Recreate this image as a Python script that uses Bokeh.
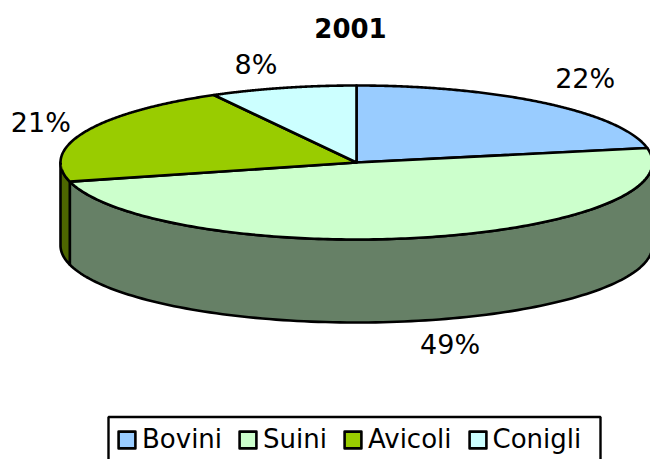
import numpy as np
from bokeh.plotting import figure
from bokeh.models import Range1d, Legend, LegendItem
from bokeh.core.properties import value
from bokeh.embed import file_html
from bokeh.resources import INLINE

title = "2001"
categories = ["Bovini", "Suini", "Avicoli", "Conigli"]
values = [22, 49, 21, 8]
labels = ["22%", "49%", "21%", "8%"]
top_colors = ["#99CCFF", "#CCFFCC", "#99CC00", "#CCFFFF"]
side_colors = ["#4D6680", "#668066", "#4D6600", "#668080"]

FONT = "DejaVu Sans"
W, H = 650, 459
CX, CY, RX, RY, DEPTH = 356, 162, 296, 77, 83
LW = 2.6
label_offsets = [(40, -25), (29, 107), (-44, -9), (-27, -23)]

p = figure(width=W, height=H, output_backend="svg", toolbar_location=None,
           x_range=Range1d(0, W), y_range=Range1d(H, 0),
           min_border=0, outline_line_color=None)
p.xaxis.visible = False
p.yaxis.visible = False
p.grid.visible = False


def rim(t, dy=0.0):
    t = np.radians(t)
    return CX + RX * np.sin(t), CY - RY * np.cos(t) + dy


edges = np.concatenate([[0], np.cumsum(values)]) * 360.0 / sum(values)

# side walls (only the front half, 90..270 degrees, is visible)
for i in range(len(values)):
    a, b = max(edges[i], 90), min(edges[i + 1], 270)
    if b <= a:
        continue
    t = np.linspace(a, b, 120)
    xt, yt = rim(t)
    xb, yb = rim(t[::-1], DEPTH)
    p.patch(np.r_[xt, xb], np.r_[yt, yb], fill_color=side_colors[i],
            line_color="black", line_width=LW, line_join="round")

# top face
wedges = []
for i in range(len(values)):
    t = np.linspace(edges[i], edges[i + 1], 200)
    xt, yt = rim(t)
    r = p.patch(np.r_[CX, xt], np.r_[CY, yt], fill_color=top_colors[i],
                line_color="black", line_width=LW, line_join="round")
    wedges.append(r)

# percent labels
mids = (edges[:-1] + edges[1:]) / 2
lx, ly = rim(mids)
lx = lx + np.array([o[0] for o in label_offsets])
ly = ly + np.array([o[1] for o in label_offsets])
p.text(lx, ly, text=labels, text_font=value(FONT), text_font_size="27px",
       text_align="center", text_baseline="middle", text_color="black")

p.text([350], [27], text=[title], text_font=value(FONT), text_font_size="26px",
       text_font_style="bold", text_align="center", text_baseline="middle",
       text_color="black")

# legend frame: its lower edge runs past the bottom of the picture
p.quad(left=[108], right=[600], top=[416.5], bottom=[H + 10], fill_color="white",
       line_color="black", line_width=2.4)

legend = Legend(items=[LegendItem(label=c, renderers=[r]) for c, r in zip(categories, wedges)],
                orientation="horizontal", location=(116, 5),
                glyph_width=21, glyph_height=21, label_standoff=5, spacing=15,
                margin=0,
                label_text_font=FONT, label_text_font_size="26px",
                label_text_color="black",
                border_line_color=None, background_fill_alpha=0)
p.add_layout(legend, "center")

open("out.html", "w").write(file_html(p, INLINE))
